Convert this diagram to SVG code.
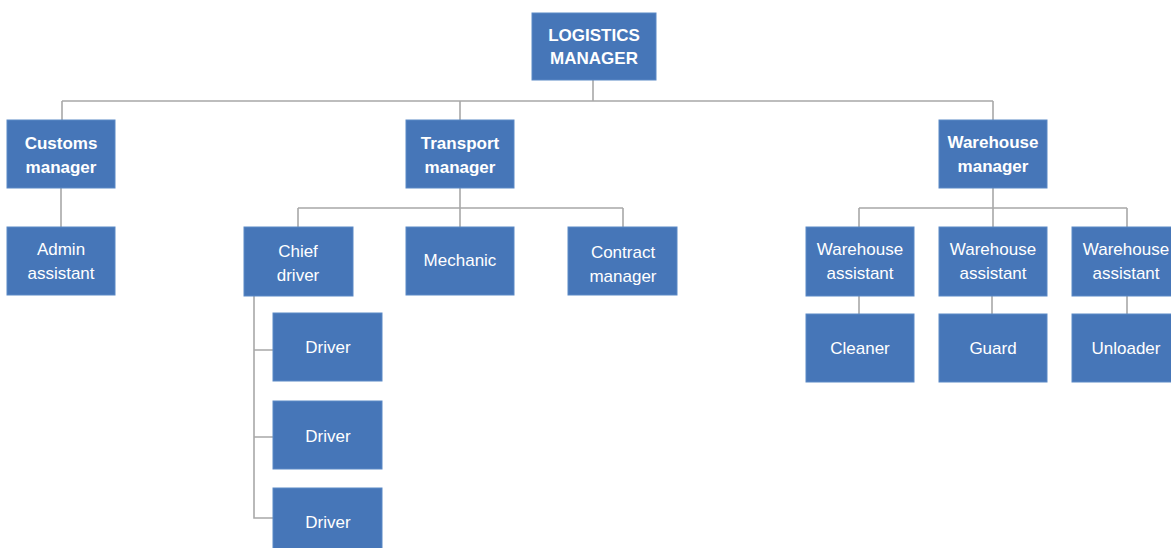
<svg xmlns="http://www.w3.org/2000/svg" width="1171" height="548" viewBox="0 0 1171 548">
<style>
.box{fill:#4676B8;stroke:#5B89C6;stroke-width:1}
.t{font-family:"Liberation Sans",Arial,sans-serif;font-size:17px;fill:#FFFFFF;text-anchor:middle}
.b{font-weight:bold}
.c{fill:none;stroke:#A8A8A8;stroke-width:1.6}
</style>
<rect width="1171" height="548" fill="#FFFFFF"/>
<g id="connectors">
<path class="c" d="M593 80 V101 M62 101 H993 M62 101 V120 M460 101 V120 M993 101 V120"/>
<path class="c" d="M61 188 V227"/>
<path class="c" d="M460 188 V227 M298 208 H623 M298 208 V227 M623 208 V227"/>
<path class="c" d="M254 296 V518 H273 M254 350 H273 M254 437 H273"/>
<path class="c" d="M993 188 V227 M859 208 H1127 M859 208 V227 M1127 208 V227"/>
<path class="c" d="M859 296 V314 M992 296 V314 M1127 296 V314"/>
</g>
<g id="logistics-manager"><rect class="box" x="532" y="13" width="124" height="67"/><text class="t b" x="594" y="41">LOGISTICS</text><text class="t b" x="594" y="64">MANAGER</text></g>
<g id="customs-manager"><rect class="box" x="7" y="120" width="108" height="68"/><text class="t b" x="61" y="149">Customs</text><text class="t b" x="61" y="173">manager</text></g>
<g id="transport-manager"><rect class="box" x="406" y="120" width="108" height="68"/><text class="t b" x="460" y="149">Transport</text><text class="t b" x="460" y="173">manager</text></g>
<g id="warehouse-manager"><rect class="box" x="939" y="120" width="108" height="68"/><text class="t b" x="993" y="148">Warehouse</text><text class="t b" x="993" y="172">manager</text></g>
<g id="admin-assistant"><rect class="box" x="7" y="227" width="108" height="68"/><text class="t" x="61" y="255">Admin</text><text class="t" x="61" y="279">assistant</text></g>
<g id="chief-driver"><rect class="box" x="244" y="227" width="109" height="69"/><text class="t" x="298" y="257">Chief</text><text class="t" x="298" y="281">driver</text></g>
<g id="mechanic"><rect class="box" x="406" y="227" width="108" height="68"/><text class="t" x="460" y="266">Mechanic</text></g>
<g id="contract-manager"><rect class="box" x="568" y="227" width="109" height="68"/><text class="t" x="623" y="258">Contract</text><text class="t" x="623" y="282">manager</text></g>
<g id="driver-1"><rect class="box" x="273" y="313" width="109" height="68"/><text class="t" x="328" y="353">Driver</text></g>
<g id="driver-2"><rect class="box" x="273" y="401" width="109" height="68"/><text class="t" x="328" y="442">Driver</text></g>
<g id="driver-3"><rect class="box" x="273" y="488" width="109" height="68"/><text class="t" x="328" y="528">Driver</text></g>
<g id="warehouse-assistant-1"><rect class="box" x="806" y="227" width="108" height="69"/><text class="t" x="860" y="255">Warehouse</text><text class="t" x="860" y="279">assistant</text></g>
<g id="warehouse-assistant-2"><rect class="box" x="939" y="227" width="108" height="69"/><text class="t" x="993" y="255">Warehouse</text><text class="t" x="993" y="279">assistant</text></g>
<g id="warehouse-assistant-3"><rect class="box" x="1072" y="227" width="108" height="69"/><text class="t" x="1126" y="255">Warehouse</text><text class="t" x="1126" y="279">assistant</text></g>
<g id="cleaner"><rect class="box" x="806" y="314" width="108" height="68"/><text class="t" x="860" y="354">Cleaner</text></g>
<g id="guard"><rect class="box" x="939" y="314" width="108" height="68"/><text class="t" x="993" y="354">Guard</text></g>
<g id="unloader"><rect class="box" x="1072" y="314" width="108" height="68"/><text class="t" x="1126" y="354">Unloader</text></g>
</svg>
